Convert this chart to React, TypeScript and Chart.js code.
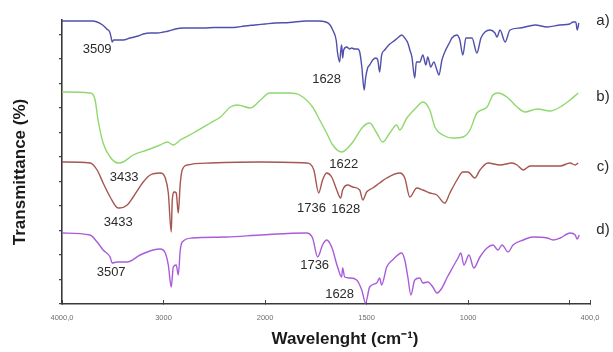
import { useEffect, useRef } from "react";
import { Chart, registerables } from "chart.js";

Chart.register(...registerables);

// x axis: wavenumber (cm-1), scale expands x2 below 2000 cm-1
const tickWaves = [4000, 3000, 2000, 1500, 1000, 500, 400];
const tickLabels = ["4000,0", "3000", "2000", "1500", "1000", "", "400,0"];
const yTickCount = 12;

const seriesNames = ["a)", "b)", "c)", "d)"];
const seriesColors = ["#5050ac", "#8fd86e", "#a5564f", "#a95cd9"];
const seriesLabelLevels = [283, 207, 137, 74];

// spectra: [wavenumber, transmittance (offset, a.u.)]
const spectrumA: [number, number][] = [
  [4000, 283], [3800, 283], [3700, 283], [3654, 282], [3600, 279], [3560, 275], [3530, 272],
  [3515, 266], [3506, 262], [3490, 264], [3450, 264], [3398, 264], [3330, 266], [3250, 268],
  [3200, 270], [3130, 271], [3062, 271], [3000, 272], [2950, 273], [2884, 275], [2806, 276],
  [2700, 276], [2600, 276], [2500, 276.5], [2312, 276.5], [2200, 278], [2100, 279], [2000, 280],
  [1950, 281], [1880, 281.5], [1796, 283], [1740, 283], [1700, 282], [1680, 279], [1667, 274],
  [1650, 264], [1643, 251], [1633, 242], [1628, 252], [1623, 259], [1618, 246], [1613, 254],
  [1598, 257], [1583, 255], [1574, 256], [1559, 255], [1544, 255], [1534, 252], [1524, 238],
  [1512, 214], [1505, 226], [1495, 236], [1485, 239], [1470, 244], [1455, 246], [1445, 244],
  [1436, 232], [1426, 249], [1411, 254], [1386, 260], [1372, 262], [1347, 266], [1327, 269],
  [1312, 266], [1297, 261], [1287, 254], [1277, 247], [1263, 226], [1255, 242], [1238, 242],
  [1223, 249], [1208, 239], [1199, 247], [1184, 237], [1169, 242], [1154, 234], [1144, 229],
  [1129, 244], [1115, 252], [1090, 262], [1080, 266], [1055, 269], [1041, 264], [1026, 249],
  [1011, 266], [981, 266], [957, 251], [937, 266], [917, 272], [892, 274], [868, 271],
  [858, 267], [843, 274], [818, 262], [794, 274], [744, 276], [670, 279], [611, 277],
  [547, 279], [500, 280], [483, 282], [470, 282], [463, 274], [455, 281],
];

const spectrumB: [number, number][] = [
  [4000, 212], [3724, 211], [3674, 204], [3645, 184], [3595, 161], [3526, 147], [3447, 141],
  [3398, 142], [3299, 149], [3161, 154], [3033, 159], [2963, 162], [2904, 159], [2835, 164],
  [2707, 171], [2539, 181], [2440, 187], [2341, 197], [2272, 199], [2144, 196], [2045, 204],
  [1978, 211], [1880, 211], [1830, 209], [1766, 197], [1731, 184], [1697, 171], [1667, 159],
  [1623, 152], [1568, 162], [1519, 177], [1485, 181], [1450, 171], [1421, 162], [1386, 171],
  [1352, 179], [1337, 174], [1302, 186], [1253, 197], [1223, 202], [1189, 194], [1164, 177],
  [1125, 169], [1075, 166], [1026, 167], [991, 174], [957, 191], [907, 197], [878, 209],
  [853, 211], [809, 207], [759, 197], [720, 192], [660, 195], [596, 193], [547, 197],
  [498, 204], [458, 211],
];

const spectrumC: [number, number][] = [
  [4000, 142], [3724, 141], [3654, 134], [3595, 121], [3526, 107], [3447, 96], [3433, 96],
  [3358, 99], [3299, 107], [3200, 122], [3131, 129], [3033, 131], [2983, 126], [2953, 111],
  [2924, 72], [2914, 104], [2894, 112], [2875, 111], [2855, 91], [2835, 121], [2816, 134],
  [2766, 139], [2539, 141], [2045, 142], [1796, 141], [1760, 134], [1736, 111], [1717, 124],
  [1697, 131], [1672, 127], [1647, 114], [1628, 106], [1618, 114], [1593, 119], [1568, 117],
  [1534, 114], [1519, 104], [1500, 112], [1470, 116], [1436, 121], [1401, 126], [1337, 131],
  [1312, 126], [1287, 107], [1253, 116], [1223, 114], [1189, 111], [1154, 109], [1115, 101],
  [1090, 111], [1055, 124], [1026, 132], [1001, 132], [967, 126], [942, 134], [903, 141],
  [843, 139], [784, 141], [759, 139], [729, 134], [695, 138], [611, 138], [547, 138],
  [498, 141], [473, 139], [458, 141],
];

const spectrumD: [number, number][] = [
  [4000, 71], [3724, 69], [3654, 62], [3595, 54], [3526, 47], [3506, 41], [3457, 42],
  [3358, 42], [3230, 49], [3102, 54], [3033, 55], [2983, 51], [2953, 39], [2924, 17],
  [2904, 37], [2875, 39], [2855, 29], [2835, 54], [2816, 62], [2717, 66], [2381, 67],
  [2045, 69], [1796, 71], [1766, 66], [1741, 47], [1717, 59], [1697, 64], [1672, 57],
  [1643, 37], [1623, 27], [1618, 36], [1608, 27], [1583, 26], [1549, 24], [1524, 14],
  [1505, 1], [1485, 17], [1450, 21], [1436, 26], [1426, 19], [1401, 37], [1372, 44],
  [1327, 51], [1312, 44], [1297, 27], [1282, 9], [1263, 24], [1238, 26], [1223, 21],
  [1199, 22], [1174, 17], [1154, 11], [1129, 16], [1105, 26], [1075, 37], [1050, 46],
  [1036, 51], [1021, 39], [996, 49], [972, 36], [942, 47], [907, 56], [878, 59], [853, 54],
  [833, 59], [803, 52], [779, 59], [729, 64], [680, 67], [611, 66], [582, 64], [547, 66],
  [498, 71], [473, 69], [463, 65], [453, 69],
];

const spectra = [spectrumA, spectrumB, spectrumC, spectrumD];

// band labels: text, anchor wavenumber, anchor level
const bandTexts = ["3509", "1628", "1622", "3433", "3433", "1736", "1628", "3507", "1736", "1628"];
const bandWaves = [3654, 1697, 1613, 3388, 3447, 1771, 1603, 3516, 1756, 1633];
const bandLevels = [255, 225, 140, 127, 82, 96, 95, 32, 39, 10];

const yTitle = "Transmittance (%)";
const xTitle = "Wavelenght (cm\u207B\u00B9)";

function toAxis(w: number): number {
  return w >= 2000 ? (4000 - w) / 1000 : 2 + (2000 - w) / 500;
}

const textPlugin = {
  id: "ftirText",
  afterDraw(chart: any) {
    const { ctx, chartArea, scales } = chart;
    const x = scales.x;
    const y = scales.y;
    ctx.save();
    ctx.fillStyle = "#2b2b2b";
    ctx.textAlign = "center";
    ctx.textBaseline = "middle";
    ctx.font = "13px 'Liberation Sans', Arial, sans-serif";
    bandTexts.forEach((t, i) => {
      ctx.fillText(t, x.getPixelForValue(toAxis(bandWaves[i])), y.getPixelForValue(bandLevels[i]));
    });
    ctx.font = "15px 'Liberation Sans', Arial, sans-serif";
    seriesNames.forEach((n, i) => {
      ctx.fillText(n, chartArea.right + 13, y.getPixelForValue(seriesLabelLevels[i]));
    });
    ctx.fillStyle = "#1a1a1a";
    ctx.font = "bold 17px 'Liberation Sans', Arial, sans-serif";
    ctx.fillText(xTitle, 345, 339);
    ctx.translate(20, 172);
    ctx.rotate(-Math.PI / 2);
    ctx.fillText(yTitle, 0, 0);
    ctx.restore();
  },
};

export default function App() {
  const ref = useRef<HTMLCanvasElement | null>(null);
  useEffect(() => {
    if (!ref.current) return;
    const chart = new Chart(ref.current, {
      type: "line",
      data: {
        datasets: spectra.map((s, i) => ({
          label: seriesNames[i],
          data: s.map(([w, v]) => ({ x: toAxis(w), y: v })),
          borderColor: seriesColors[i],
          borderWidth: 1.4,
          pointRadius: 0,
          cubicInterpolationMode: "monotone" as const,
          fill: false,
        })),
      },
      options: {
        animation: false,
        responsive: false,
        devicePixelRatio: 1,
        parsing: false as any,
        layout: { padding: { left: 59, right: 23, top: 20, bottom: 17 } },
        plugins: { legend: { display: false }, tooltip: { enabled: false } },
        scales: {
          x: {
            type: "linear",
            min: 0,
            max: toAxis(400),
            afterBuildTicks: (scale: any) => {
              scale.ticks = tickWaves.map((w) => ({ value: toAxis(w) }));
            },
            ticks: {
              autoSkip: false,
              maxRotation: 0,
              padding: 13,
              color: "#6e6e6e",
              font: { size: 7.5, family: "'Liberation Sans', Arial, sans-serif" },
              callback: (value: any) => {
                const idx = tickWaves.findIndex((w) => Math.abs(toAxis(w) - value) < 1e-6);
                return idx >= 0 ? tickLabels[idx] : "";
              },
            },
            grid: { drawOnChartArea: false, drawTicks: true, tickLength: -4, color: "#444", lineWidth: 1 },
            border: { display: true, color: "#3a3a3a", width: 1.6 },
          },
          y: {
            type: "linear",
            min: 0,
            max: 284,
            afterBuildTicks: (scale: any) => {
              scale.ticks = Array.from({ length: yTickCount }, (_, i) => ({ value: i * 24.5 }));
            },
            ticks: { display: false },
            grid: { drawOnChartArea: false, drawTicks: true, tickLength: 3, color: "#444", lineWidth: 1.2 },
            border: { display: true, color: "#3a3a3a", width: 1.6 },
          },
        },
      },
      plugins: [textPlugin],
    });
    return () => chart.destroy();
  }, []);
  return (
    <div style={{ position: "fixed", left: 0, top: 0, width: 613, height: 352, background: "#fff" }}>
      <canvas ref={ref} width={613} height={352} />
    </div>
  );
}
